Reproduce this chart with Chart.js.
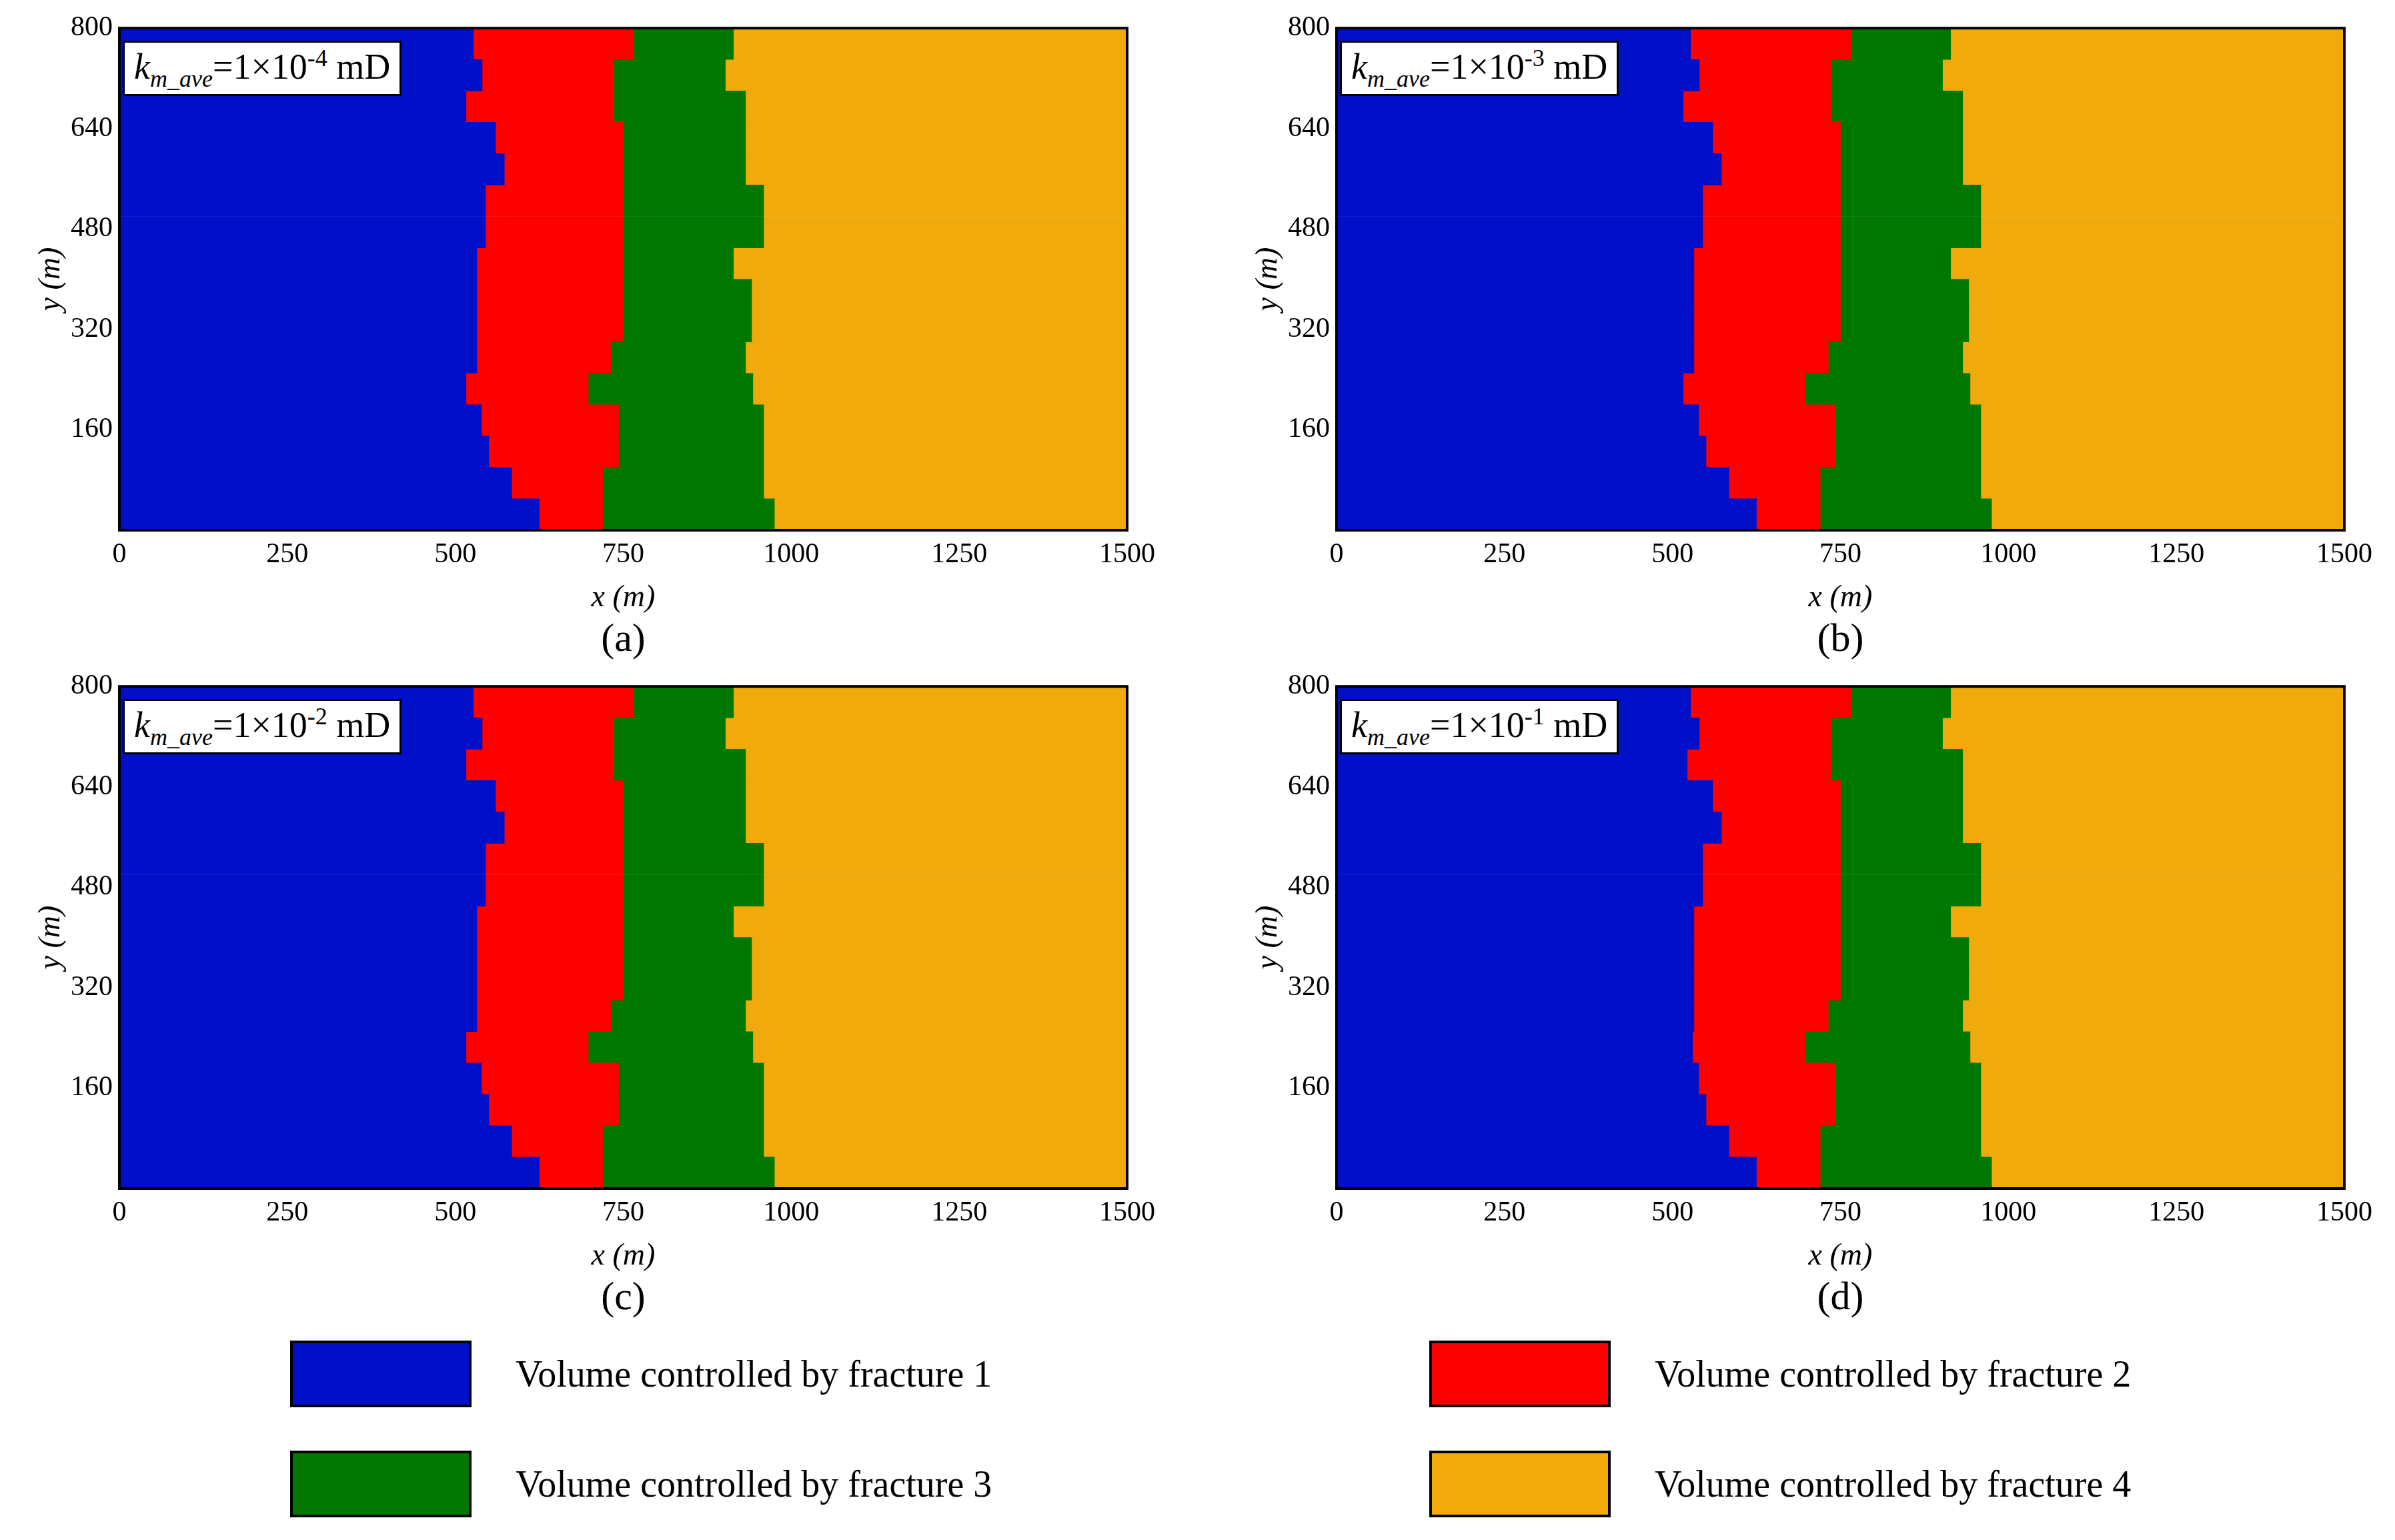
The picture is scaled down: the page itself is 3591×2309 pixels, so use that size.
<!DOCTYPE html>
<html><head><meta charset="utf-8">
<script src="https://cdn.jsdelivr.net/npm/chart.js@4/dist/chart.umd.min.js"></script>
<style>
body{margin:0;background:#fff;width:3591px;height:2309px;position:relative;overflow:hidden;font-family:"Liberation Serif","DejaVu Serif",serif}
.c{position:absolute}
.lab{position:absolute;font-size:60px;transform:translateX(-50%)}
.ann{position:absolute;background:#fff;border:3px solid #000;font-size:54px;padding:2px 14px;white-space:nowrap}
.ann sub{font-size:36px}.ann sup{font-size:36px}
.box{position:absolute;width:272px;height:100px;border:4px solid #000;box-sizing:border-box}
.lt{position:absolute;font-size:56px;line-height:100px}
</style></head><body>
<canvas id="ca" class="c"></canvas><canvas id="cb" class="c"></canvas>
<canvas id="cc" class="c"></canvas><canvas id="cd" class="c"></canvas>
<script>
const bandCenters=[25,75,125,175,225,275,325,375,425,475,525,575,625,675,725,775];
const b1A=[625,584,550,539,516,532,532,532,532,545,545,573,560,516,540,527];
const b2A=[720,720,743,743,698,732,750,750,750,750,750,750,750,736,736,766];
const b3A=[975,959,959,959,943,932,941,941,914,959,959,932,932,932,902,914];
const b1D=[625,584,550,539,530,532,532,532,532,545,545,573,560,522,540,527];
const xTicks=[0,250,500,750,1000,1250,1500];
const yTicks=[160,320,480,640,800];
const xMax=1500,yMax=800;
const colors=['#0010c8','#ff0000','#007800','#f0aa0c'];
const legendLabels=['Volume controlled by fracture 1','Volume controlled by fracture 2','Volume controlled by fracture 3','Volume controlled by fracture 4'];
const kLabels=['-4','-3','-2','-1'];
const panelNames=['(a)','(b)','(c)','(d)'];

const YW=130,XH=130,PT=30,PR=60,PW=1511,PH=758;
const lefts=[179,2004],tops=[37,1024];
function make(id,b1,b2,b3,left,top){
  const cv=document.getElementById(id);
  const w=YW+PW+PR,h=PT+PH+XH;
  cv.style.left=(left-YW)+'px';cv.style.top=(top-PT)+'px';
  cv.style.width=w+'px';cv.style.height=h+'px';cv.width=w;cv.height=h;
  const mk=(a,b)=>bandCenters.map((y,i)=>({y:y,x:[a?a[i]:0,b?b[i]:xMax]}));
  new Chart(cv,{type:'bar',data:{datasets:[
    {data:mk(null,b1),backgroundColor:colors[0]},
    {data:mk(b1,b2),backgroundColor:colors[1]},
    {data:mk(b2,b3),backgroundColor:colors[2]},
    {data:mk(b3,null),backgroundColor:colors[3]}]},
   options:{indexAxis:'y',responsive:false,animation:false,devicePixelRatio:1,
    layout:{padding:{top:PT,right:PR,left:0,bottom:0}},
    plugins:{legend:{display:false},tooltip:{enabled:false}},
    datasets:{bar:{barPercentage:1,categoryPercentage:1,grouped:false,borderWidth:0}},
    scales:{
     x:{type:'linear',min:0,max:xMax,offset:false,afterFit:s=>{s.height=XH;},
       afterBuildTicks:s=>{s.ticks=xTicks.map(v=>({value:v}));},
       grid:{display:false,drawTicks:false},border:{color:'#000',width:3},
       ticks:{color:'#000',font:{family:'Liberation Serif',size:42},padding:12,callback:v=>String(v)},
       title:{display:true,text:'x (m)',color:'#000',font:{family:'Liberation Serif',size:46,style:'italic'},padding:{top:0,bottom:0}}},
     y:{type:'linear',min:0,max:yMax,offset:false,afterFit:s=>{s.width=YW;},
       afterBuildTicks:s=>{s.ticks=yTicks.map(v=>({value:v}));},
       grid:{display:false,drawTicks:false},border:{color:'#000',width:3},
       ticks:{color:'#000',font:{family:'Liberation Serif',size:42},padding:10,callback:v=>String(v)},
       title:{display:true,text:'y (m)',color:'#000',font:{family:'Liberation Serif',size:46,style:'italic'},padding:{top:0,bottom:0}}}
    }},
   plugins:[{id:'frame',afterDraw(c){const a=c.chartArea,x=c.ctx;x.save();x.strokeStyle='#000';x.lineWidth=4;x.strokeRect(a.left,a.top,a.width,a.height);x.restore();}}]
  });
}
const sets=[[b1A,b2A,b3A],[b1A,b2A,b3A],[b1A,b2A,b3A],[b1D,b2A,b3A]];
['ca','cb','cc','cd'].forEach((id,i)=>{
  const left=lefts[i%2],top=tops[Math.floor(i/2)];
  make(id,sets[i][0],sets[i][1],sets[i][2],left,top);
  const a=document.createElement('div');a.className='ann';
  a.style.left=(left+5)+'px';a.style.top=(top+24)+'px';
  a.innerHTML='<i>k<sub>m_ave</sub></i>=1×10<sup>'+kLabels[i]+'</sup> mD';
  document.body.appendChild(a);
  const l=document.createElement('div');l.className='lab';
  l.style.left=(left+PW/2)+'px';l.style.top=(top+885)+'px';l.textContent=panelNames[i];
  document.body.appendChild(l);
});
const lpos=[[435,2010],[2143,2010],[435,2175],[2143,2175]];
legendLabels.forEach((t,i)=>{
  const b=document.createElement('div');b.className='box';b.style.background=colors[i];
  b.style.left=lpos[i][0]+'px';b.style.top=lpos[i][1]+'px';document.body.appendChild(b);
  const s=document.createElement('div');s.className='lt';s.textContent=t;
  s.style.left=(lpos[i][0]+338)+'px';s.style.top=lpos[i][1]+'px';document.body.appendChild(s);
});
</script></body></html>
